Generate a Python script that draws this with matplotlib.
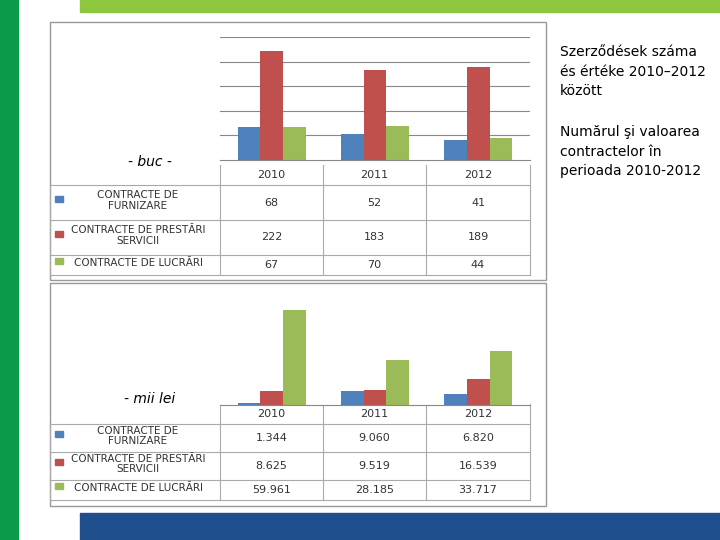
import matplotlib.pyplot as plt
from matplotlib.patches import Rectangle
import numpy as np

years = ["2010", "2011", "2012"]
series_names = ["CONTRACTE DE\nFURNIZARE", "CONTRACTE DE PRESTĂRI\nSERVICII", "CONTRACTE DE LUCRĂRI"]
buc_furnizare = [68, 52, 41]
buc_servicii = [222, 183, 189]
buc_lucrari = [67, 70, 44]
lei_furnizare = [1344, 9060, 6820]
lei_servicii = [8625, 9519, 16539]
lei_lucrari = [59961, 28185, 33717]
lei_labels = [["1.344", "9.060", "6.820"], ["8.625", "9.519", "16.539"], ["59.961", "28.185", "33.717"]]

colors = ["#4f81bd", "#c0504d", "#9bbb59"]
W, H = 720, 540

fig = plt.figure(figsize=(7.2, 5.4), dpi=100)
bg = fig.add_axes([0, 0, 1, 1])
bg.set_xlim(0, W)
bg.set_ylim(H, 0)
bg.axis("off")

# slide decorations
bg.add_patch(Rectangle((0, 0), 18, H, color="#0a9a48"))
bg.add_patch(Rectangle((80, 0), 640, 12, color="#8dc63f"))
bg.add_patch(Rectangle((80, 513), 640, 27, color="#1f4e8c"))
bg.add_patch(Rectangle((50, 22), 496, 258, fill=False, ec="#999999", lw=1))
bg.add_patch(Rectangle((50, 283), 496, 223, fill=False, ec="#999999", lw=1))

bg.text(560, 45, "Szerződések száma\nés értéke 2010–2012\nközött", fontsize=10, va="top", linespacing=1.5)
bg.text(560, 125, "Numărul şi valoarea\ncontractelor în\nperioada 2010-2012", fontsize=10, va="top", linespacing=1.5)
bg.text(150, 162, "- buc -", fontsize=10, style="italic", ha="center", va="center")
bg.text(150, 399, "- mii lei", fontsize=10, style="italic", ha="center", va="center")


def px_axes(x0, y0, x1, y1):
    return fig.add_axes([x0 / W, 1 - y1 / H, (x1 - x0) / W, (y1 - y0) / H])


def chart(top, bottom, data, ymax, grid):
    ax = px_axes(220, top, 530, bottom)
    x = np.arange(3)
    w = 0.22
    for i, vals in enumerate(data):
        ax.bar(x + (i - 1) * w, vals, w, color=colors[i])
    ax.set_xlim(-0.5, 2.5)
    ax.set_ylim(0, ymax)
    ax.set_yticks(grid)
    ax.yaxis.grid(True, color="#888888", lw=0.8)
    ax.set_axisbelow(True)
    ax.tick_params(left=False, labelleft=False, bottom=False, labelbottom=False)
    for s in ["top", "right", "left"]:
        ax.spines[s].set_visible(False)
    ax.spines["bottom"].set_color("#888888")
    return ax


chart(37, 160, [buc_furnizare, buc_servicii, buc_lucrari], 250, [50, 100, 150, 200, 250])
chart(300, 405, [lei_furnizare, lei_servicii, lei_lucrari], 66000, [])


def table(y0, rows, cells):
    # rows: list of (y_top, y_bottom)
    cols = [220, 323, 426, 530]
    yh = y0 + 20
    bg.plot([220, 220], [y0, rows[-1][1]], color="#aaaaaa", lw=0.8)
    for c in cols[1:]:
        bg.plot([c, c], [y0, rows[-1][1]], color="#aaaaaa", lw=0.8)
    for j, yr in enumerate(years):
        bg.text((cols[j] + cols[j + 1]) / 2, y0 + 10, yr, ha="center", va="center", fontsize=8, color="#333333")
    bg.plot([50, 530], [yh, yh], color="#aaaaaa", lw=0.8)
    for i, (a, b) in enumerate(rows):
        bg.plot([50, 530], [b, b], color="#aaaaaa", lw=0.8)
        ym = (a + b) / 2
        bg.add_patch(Rectangle((55, ym - 7), 8, 6, color=colors[i]))
        bg.text(138, ym - 2, series_names[i], ha="center", va="center", fontsize=7.5, color="#333333", linespacing=1.1)
        for j in range(3):
            bg.text((cols[j] + cols[j + 1]) / 2, ym, cells[i][j], ha="center", va="center", fontsize=8, color="#333333")
    bg.plot([50, 50], [yh, rows[-1][1]], color="#aaaaaa", lw=0.8)


table(165, [(185, 220), (220, 255), (255, 275)],
      [[str(v) for v in buc_furnizare], [str(v) for v in buc_servicii], [str(v) for v in buc_lucrari]])
table(404, [(424, 452), (452, 480), (480, 500)], lei_labels)

fig.savefig("out.png", dpi=100)
